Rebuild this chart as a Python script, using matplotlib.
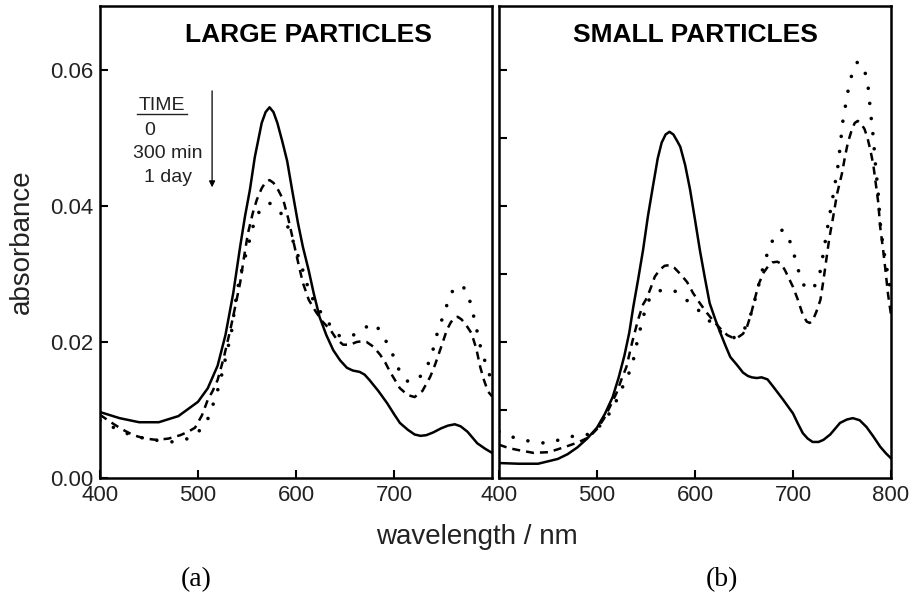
import matplotlib
matplotlib.use("Agg")
import matplotlib.pyplot as plt

plt.rcParams['font.family'] = ['Liberation Sans', 'DejaVu Sans']

# ---- (a) large particles ----
a_x0 = [400, 420, 440, 460, 480, 500, 510, 520, 528, 536, 543, 548, 553, 558, 565, 569, 573,
        577, 581, 586, 591, 596, 602, 607, 613, 618, 624, 631, 638, 645, 652, 658, 665, 670,
        675, 684, 693, 700, 706, 714, 721, 727, 733, 740, 748, 755, 762, 768, 775, 785, 793, 800]
a_y0 = [0.0097, 0.0088, 0.0082, 0.0082, 0.0091, 0.0112, 0.0132, 0.0165, 0.0210, 0.0272, 0.0340,
        0.0385, 0.0424, 0.0472, 0.0522, 0.0538, 0.0545, 0.0538, 0.0522, 0.0495, 0.0466, 0.0424,
        0.0375, 0.0340, 0.0305, 0.0272, 0.0237, 0.0210, 0.0188, 0.0173, 0.0162, 0.0158, 0.0156,
        0.0152, 0.0144, 0.0128, 0.0110, 0.0094, 0.0081, 0.0071, 0.0064, 0.0062, 0.0063, 0.0067,
        0.0073, 0.0077, 0.0079, 0.0076, 0.0068, 0.0051, 0.0043, 0.0037]

a_x300 = [400, 410, 422, 434, 446, 458, 470, 482, 490, 497, 504, 510, 515, 520, 526, 533, 538,
          543, 547, 551, 556, 560, 565, 569, 573, 577, 582, 587, 592, 597, 602, 607, 613, 620,
          627, 635, 641, 648, 655, 662, 667, 672, 679, 686, 691, 696, 701, 706, 714, 721, 729,
          737, 742, 747, 751, 754, 758, 762, 765, 769, 774, 779, 784, 788, 792, 796, 800]
a_y300 = [0.0093, 0.0083, 0.0072, 0.0063, 0.0058, 0.0056, 0.0058, 0.0063, 0.0068, 0.0074, 0.0092,
          0.0115, 0.0128, 0.0144, 0.0175, 0.0218, 0.0252, 0.0287, 0.0325, 0.0360, 0.0390, 0.0409,
          0.0426, 0.0435, 0.0438, 0.0434, 0.0423, 0.0409, 0.0382, 0.0350, 0.0318, 0.0287, 0.0262,
          0.0245, 0.0230, 0.0218, 0.0205, 0.0196, 0.0196, 0.0200, 0.0201, 0.0200, 0.0193, 0.0181,
          0.0170, 0.0156, 0.0144, 0.0132, 0.0122, 0.0119, 0.0128, 0.0149, 0.0167, 0.0188, 0.0205,
          0.0218, 0.0229, 0.0236, 0.0237, 0.0233, 0.0224, 0.0213, 0.0190, 0.0163, 0.0143, 0.0127,
          0.0120]

a_x1d = [400, 410, 420, 430, 440, 450, 460, 467, 475, 482, 490, 497, 503, 509, 513, 517, 522,
         526, 530, 534, 540, 545, 550, 556, 561, 566, 570, 573, 577, 582, 587, 593, 599, 606,
         614, 622, 630, 637, 645, 654, 664, 670, 677, 683, 689, 694, 698, 702, 706, 710, 715,
         721, 728, 732, 737, 741, 745, 750, 755, 759, 763, 767, 771, 775, 779, 783, 786, 789,
         792, 795, 800]
a_y1d = [0.0085, 0.0077, 0.0070, 0.0064, 0.0060, 0.0057, 0.0055, 0.0054, 0.0053, 0.0055, 0.0058,
         0.0063, 0.0072, 0.0083, 0.0098, 0.0115, 0.0138, 0.0163, 0.0188, 0.0213, 0.0276, 0.0308,
         0.0335, 0.0369, 0.0388, 0.0399, 0.0403, 0.0404, 0.0401, 0.0395, 0.0384, 0.0365, 0.0340,
         0.0310, 0.0272, 0.0250, 0.0235, 0.0220, 0.0208, 0.0208, 0.0213, 0.0220, 0.0228, 0.0222,
         0.0208, 0.0196, 0.0184, 0.0170, 0.0156, 0.0147, 0.0141, 0.0142, 0.0151, 0.0160, 0.0174,
         0.0195, 0.0218, 0.0237, 0.0259, 0.0273, 0.0282, 0.0283, 0.0280, 0.0274, 0.0251, 0.0228,
         0.0207, 0.0188, 0.0175, 0.0163, 0.0140]

# ---- (b) small particles ----
b_x0 = [400, 420, 440, 460, 470, 480, 490, 500, 508, 516, 522, 528, 533, 537, 542, 547, 552,
        557, 562, 566, 570, 574, 578, 582, 585, 590, 595, 600, 605, 610, 615, 621, 626, 631,
        636, 643, 649, 654, 658, 663, 668, 674, 680, 690, 700, 705, 710, 715, 720, 726, 731,
        738, 748, 755, 761, 768, 775, 782, 789, 795, 800]
b_y0 = [0.0022, 0.0021, 0.0021, 0.0028, 0.0035, 0.0045, 0.0058, 0.0074, 0.0094, 0.0119, 0.0147,
        0.0180, 0.0214, 0.0251, 0.0292, 0.0335, 0.0385, 0.0428, 0.0470, 0.0493, 0.0505, 0.0509,
        0.0505, 0.0495, 0.0487, 0.0460, 0.0424, 0.0380, 0.0335, 0.0295, 0.0257, 0.0232, 0.0213,
        0.0195, 0.0178, 0.0166, 0.0155, 0.0150, 0.0148, 0.0147, 0.0148, 0.0145, 0.0134, 0.0115,
        0.0095, 0.0080, 0.0066, 0.0058, 0.0053, 0.0053, 0.0056, 0.0064, 0.0081, 0.0086, 0.0088,
        0.0085, 0.0075, 0.0061, 0.0046, 0.0036, 0.0029]

b_x300 = [400, 410, 420, 435, 451, 468, 480, 492, 500, 507, 513, 520, 525, 530, 536, 542, 547,
          551, 555, 559, 564, 569, 574, 579, 585, 592, 598, 605, 612, 620, 627, 633, 639, 644,
          649, 653, 657, 661, 665, 670, 675, 679, 684, 688, 692, 696, 700, 705, 710, 714, 717,
          720, 724, 728, 731, 734, 737, 741, 745, 750, 753, 756, 760, 763, 766, 769, 773, 776,
          779, 782, 784, 787, 789, 792, 794, 797, 800]
b_y300 = [0.0049, 0.0044, 0.0041, 0.0037, 0.0038, 0.0046, 0.0052, 0.0060, 0.0072, 0.0087, 0.0104,
          0.0125, 0.0145, 0.0163, 0.0200, 0.0233, 0.0255, 0.0265, 0.0280, 0.0296, 0.0306, 0.0312,
          0.0313, 0.0309, 0.0300, 0.0288, 0.0272, 0.0257, 0.0243, 0.0229, 0.0218, 0.0210, 0.0206,
          0.0207, 0.0212, 0.0222, 0.0240, 0.0263, 0.0285, 0.0302, 0.0312, 0.0317, 0.0318, 0.0315,
          0.0305, 0.0293, 0.0281, 0.0262, 0.0240, 0.0230, 0.0228, 0.0231, 0.0245, 0.0262, 0.0290,
          0.0321, 0.0352, 0.0384, 0.0418, 0.0448, 0.0472, 0.0493, 0.0512, 0.0522, 0.0525, 0.0522,
          0.0513, 0.0500, 0.0482, 0.0460, 0.0438, 0.0405, 0.0369, 0.0335, 0.0310, 0.0270, 0.0240]

b_x1d = [400, 412, 424, 436, 449, 459, 469, 479, 489, 500, 508, 515, 522, 528, 532, 536, 541,
         546, 551, 556, 561, 566, 571, 576, 581, 589, 597, 605, 612, 618, 623, 631, 639, 646,
         653, 658, 663, 667, 670, 675, 680, 685, 690, 694, 699, 703, 707, 711, 714, 718, 721,
         724, 728, 731, 736, 741, 746, 751, 756, 760, 763, 766, 769, 772, 775, 777, 779, 782,
         784, 787, 789, 792, 796, 800]
b_y1d = [0.0068, 0.0061, 0.0056, 0.0053, 0.0051, 0.0055, 0.0060, 0.0062, 0.0063, 0.0072, 0.0085,
         0.0100, 0.0120, 0.0140, 0.0152, 0.0166, 0.0200, 0.0230, 0.0257, 0.0268, 0.0274, 0.0276,
         0.0277, 0.0276, 0.0274, 0.0265, 0.0254, 0.0245, 0.0235, 0.0226, 0.0218, 0.0211, 0.0206,
         0.0210, 0.0225, 0.0245, 0.0272, 0.0295, 0.0313, 0.0335, 0.0352, 0.0362, 0.0365, 0.0358,
         0.0340, 0.0318, 0.0298, 0.0284, 0.0277, 0.0277, 0.0280, 0.0287, 0.0305, 0.0331, 0.0375,
         0.0416, 0.0460, 0.0526, 0.0568, 0.0593, 0.0605, 0.0612, 0.0609, 0.0602, 0.0590, 0.0571,
         0.0540, 0.0500, 0.0463, 0.0418, 0.0375, 0.0340, 0.0306, 0.0270]

time_labels = ['0', '300 min', '1 day']

lw = 1.8
dash = (0, (3.2, 2.4))
dots = (0, (0.01, 4.2))

fig = plt.figure(figsize=(9.13, 6.04), dpi=100)
ax1 = fig.add_axes([0.1095, 0.2086, 0.4294, 0.7815])
ax2 = fig.add_axes([0.5465, 0.2086, 0.4294, 0.7815])

for ax, (x0, y0, x3, y3, xd, yd) in zip(
        [ax1, ax2],
        [(a_x0, a_y0, a_x300, a_y300, a_x1d, a_y1d),
         (b_x0, b_y0, b_x300, b_y300, b_x1d, b_y1d)]):
    ax.plot(x0, y0, color='black', lw=lw, solid_joinstyle='round')
    ax.plot(x3, y3, color='black', lw=lw, linestyle=dash)
    ax.plot(xd, yd, color='black', lw=2.6, linestyle=dots, dash_capstyle='round')
    ax.set_xlim(400, 800)
    ax.set_ylim(0, 0.0694)
    for s in ax.spines.values():
        s.set_linewidth(1.8)
    ax.tick_params(direction='in', length=6, width=1.5, labelsize=16, pad=5,
                   colors='black', labelcolor='#222222')

ax1.set_xticks([400, 500, 600, 700])
ax1.set_yticks([0.00, 0.02, 0.04, 0.06])
ax1.set_yticklabels(['0.00', '0.02', '0.04', '0.06'])
ax2.set_xticks([400, 500, 600, 700, 800])
ax2.set_yticks([0.01, 0.02, 0.03, 0.04, 0.05, 0.06])
ax2.set_yticklabels([])

ax1.text(0.533, 0.939, 'LARGE PARTICLES', transform=ax1.transAxes, ha='center', va='center',
         fontsize=19, fontweight='bold')
ax2.text(0.5, 0.939, 'SMALL PARTICLES', transform=ax2.transAxes, ha='center', va='center',
         fontsize=19, fontweight='bold')

# time legend with arrow
ax1.text(0.158, 0.790, 'TIME', transform=ax1.transAxes, ha='center', va='center', fontsize=14,
         color='#222222')
ax1.plot([0.094, 0.222], [0.771, 0.771], transform=ax1.transAxes, color='#222222', lw=1.0)
ax1.text(0.128, 0.737, time_labels[0], transform=ax1.transAxes, ha='center', va='center', fontsize=14,
         color='#222222')
ax1.text(0.173, 0.688, time_labels[1], transform=ax1.transAxes, ha='center', va='center', fontsize=14,
         color='#222222')
ax1.text(0.173, 0.636, time_labels[2], transform=ax1.transAxes, ha='center', va='center', fontsize=14,
         color='#222222')
ax1.annotate('', xy=(0.286, 0.610), xytext=(0.286, 0.826), xycoords='axes fraction',
             arrowprops=dict(arrowstyle='-|>', color='black', lw=0.9, mutation_scale=9))

fig.text(0.024, 0.600, 'absorbance', rotation=90, ha='center', va='center', fontsize=20,
         color='#222222')
fig.text(0.522, 0.111, 'wavelength / nm', ha='center', va='center', fontsize=20, color='#222222')
fig.text(0.215, 0.040, '(a)', ha='center', va='center', fontsize=20,
         family=['Liberation Serif', 'DejaVu Serif'])
fig.text(0.791, 0.040, '(b)', ha='center', va='center', fontsize=20,
         family=['Liberation Serif', 'DejaVu Serif'])

fig.savefig('out.png', dpi=100)
